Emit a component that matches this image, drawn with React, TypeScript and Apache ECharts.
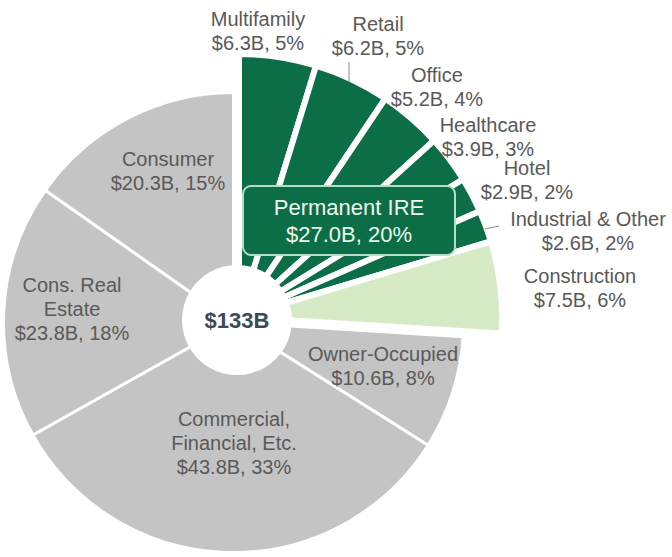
import React, { useEffect, useRef } from "react";
import * as echarts from "echarts";

// ---- data ----
const greenCategories = ["Multifamily", "Retail", "Office", "Healthcare", "Hotel", "Industrial & Other", "Construction"];
const greenValues = [6.3, 6.2, 5.2, 3.9, 2.9, 2.6, 7.5];
const greyCategories = ["Owner-Occupied", "Commercial,\nFinancial, Etc.", "Cons. Real\nEstate", "Consumer"];
const greyValues = [10.6, 43.8, 23.8, 20.3];
const totalBillions = 133;
const permanentIRE = 27.0;
const permanentIREPct = 20;

// ---- styles / label positions ----
const DARK_GREEN = "#0b6e46";
const LIGHT_GREEN = "#d6eac5";
const GREY = "#c4c4c4";
const TEXT_GREY = "#595959";
const FONT = "'Liberation Sans', Arial, sans-serif";

const greenLabelPos: [number, number][] = [
  [258, 31],
  [378, 36],
  [437, 87],
  [488, 137],
  [527, 180],
  [588, 231],
  [580, 288],
];
const greyLabelPos: [number, number][] = [
  [383, 366],
  [234, 443],
  [72, 309],
  [168, 171],
];

const sum = (a: number[]) => a.reduce((s, v) => s + v, 0);

export default function App() {
  const ref = useRef<HTMLDivElement>(null);
  useEffect(() => {
    document.body.style.margin = "0";
    const chart = echarts.init(ref.current!, null, { renderer: "svg" });
    const fmt = (p: any) =>
      `${p.name}\n$${Number(p.value).toFixed(1)}B, ${Math.round((p.value / totalBillions) * 100)}%`;
    const placeholder = (v: number) => ({
      value: v,
      name: "",
      itemStyle: { color: "rgba(0,0,0,0)", borderWidth: 0 },
      label: { show: false },
      emphasis: { disabled: true },
    });
    const labelStyle = {
      show: true,
      position: "inside",
      formatter: fmt,
      color: TEXT_GREY,
      fontSize: 20,
      lineHeight: 24,
      fontFamily: FONT,
      align: "center",
    };
    const option: any = {
      animation: false,
      backgroundColor: "#ffffff",
      series: [
        {
          type: "pie",
          center: [233.5, 322.5],
          radius: [0, 230],
          startAngle: 90,
          clockwise: true,
          avoidLabelOverlap: false,
          silent: true,
          itemStyle: { borderColor: "#ffffff", borderWidth: 3 },
          label: labelStyle,
          labelLine: { show: false },
          labelLayout: (params: any) => {
            const pos = greyLabelPos[params.dataIndex - 1];
            if (!pos) return {};
            return { x: pos[0], y: pos[1], align: "center", verticalAlign: "middle" };
          },
          data: [
            placeholder(sum(greenValues)),
            ...greyCategories.map((n, i) => ({ name: n, value: greyValues[i], itemStyle: { color: GREY } })),
          ],
        },
        {
          type: "pie",
          center: [239, 317],
          radius: [0, 263],
          startAngle: 90,
          clockwise: true,
          avoidLabelOverlap: false,
          silent: true,
          itemStyle: { borderColor: "#ffffff", borderWidth: 6 },
          label: labelStyle,
          labelLine: { show: false },
          labelLayout: (params: any) => {
            const pos = greenLabelPos[params.dataIndex];
            if (!pos) return {};
            return { x: pos[0], y: pos[1], align: "center", verticalAlign: "middle" };
          },
          data: [
            ...greenCategories.map((n, i) => ({
              name: n,
              value: greenValues[i],
              itemStyle: { color: i === greenCategories.length - 1 ? LIGHT_GREEN : DARK_GREEN },
            })),
            placeholder(sum(greyValues)),
          ],
        },
        {
          type: "pie",
          z: 3,
          center: [237, 320],
          radius: [0, 55],
          silent: true,
          itemStyle: { color: "#ffffff", borderWidth: 0 },
          label: {
            show: true,
            position: "center",
            formatter: () => `$${totalBillions}B`,
            color: "#3b4a5a",
            fontSize: 22,
            fontWeight: "bold",
            fontFamily: FONT,
          },
          labelLine: { show: false },
          data: [{ name: "Total", value: totalBillions }],
        },
      ],
      graphic: [
        {
          type: "rect",
          z: 100,
          zlevel: 0,
          shape: { x: 243, y: 186, width: 212, height: 69, r: 8 },
          style: { fill: DARK_GREEN, stroke: "#b2dec6", lineWidth: 2 },
        },
        {
          type: "text",
          z: 101,
          zlevel: 0,
          x: 349,
          y: 221,
          style: {
            text: `Permanent IRE\n$${permanentIRE.toFixed(1)}B, ${permanentIREPct}%`,
            fill: "#eef7ee",
            fontSize: 22,
            lineHeight: 27,
            fontFamily: FONT,
            align: "center",
            verticalAlign: "middle",
          },
        },
        {
          type: "line",
          z: 100,
          shape: { x1: 349, y1: 62, x2: 349, y2: 82 },
          style: { stroke: "#8a8a8a", lineWidth: 1 },
        },
        {
          type: "line",
          z: 100,
          shape: { x1: 485, y1: 229, x2: 499, y2: 226 },
          style: { stroke: "#8a8a8a", lineWidth: 1 },
        },
      ],
    };
    chart.setOption(option);
    return () => chart.dispose();
  }, []);
  return (
    <div
      ref={ref}
      style={{ position: "fixed", left: 0, top: 0, width: 672, height: 557, background: "#fff" }}
    />
  );
}
